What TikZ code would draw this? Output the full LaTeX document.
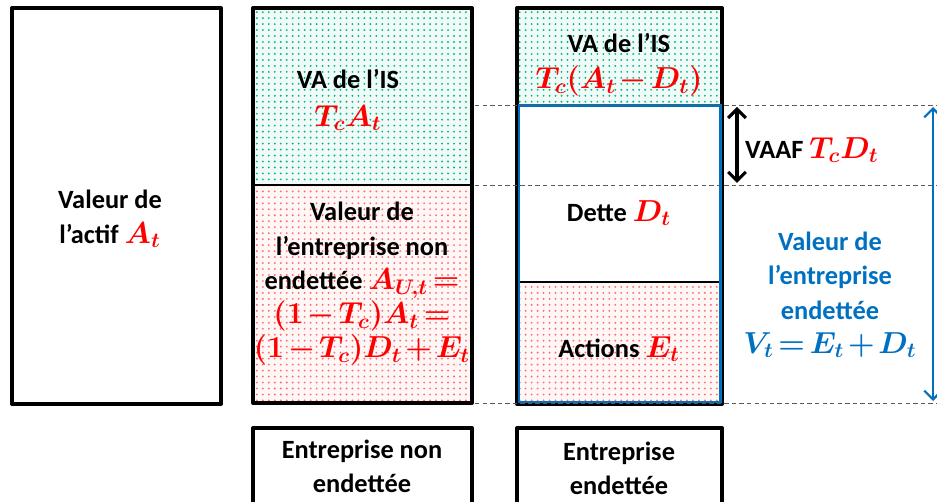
\documentclass[tikz,border=0pt]{standalone}
\usepackage{amsmath}
\usepackage{fontspec}
\setmainfont{Carlito}
\usetikzlibrary{patterns,arrows.meta}

\definecolor{isblue}{HTML}{0070C0}
\definecolor{dotgreen}{HTML}{00B890}
\definecolor{dotred}{HTML}{FF4A4A}
\pgfdeclarepatternformonly{sparsedots}{\pgfqpoint{-1pt}{-1pt}}{\pgfqpoint{1pt}{1pt}}{\pgfqpoint{3.4pt}{3.4pt}}{\pgfpathcircle{\pgfqpoint{0pt}{0pt}}{0.6pt}\pgfusepath{fill}}
\newcommand{\mth}[1]{{\fontsize{16.5}{19.5}\selectfont\color{red}$\medmuskip=2mu\thickmuskip=2.5mu #1$}}

\begin{document}
\begin{tikzpicture}[x=0.02cm, y=-0.02cm,
  txt/.style={font=\fontsize{15}{19.5}\selectfont\bfseries\boldmath, align=center},
  frame/.style={line width=2.3pt, line join=round},
  isfill/.style={fill=dotgreen!6},
  isdots/.style={pattern=sparsedots, pattern color=dotgreen},
  eqfill/.style={fill=dotred!5},
  eqdots/.style={pattern=sparsedots, pattern color=dotred!80},
  guide/.style={dashed, dash pattern=on 2.5pt off 1.8pt, gray!70!black, line width=0.5pt}]
\useasboundingbox (0,0) rectangle (937,502);

% valeur de l'actif
\draw[frame] (12,8) rectangle (221,404);
\node[txt] (actif) at (110,219) {Valeur de\\l’actif \mth{A_t}};

% entreprise non endettee
\fill[isfill] (253,8) rectangle (472,185);
\fill[isdots] (253,8) rectangle (472,185);
\fill[eqfill] (253,185) rectangle (472,403);
\fill[eqdots] (253,185) rectangle (472,403);
\draw[line width=0.6pt] (253,185) -- (472,185);
\draw[frame] (253,8) rectangle (472,403);
\node[txt] (isU) at (348,100) {VA de l’IS\\[2pt]\mth{T_cA_t}};
\node[txt] (valU) at (362,284) {Valeur de\\l’entreprise non\\endettée \mth{A_{U,t}=}\\\mth{(1-T_c)A_t=}\\\mth{(1-T_c)D_t+E_t}};

% entreprise endettee
\fill[isfill] (517,8) rectangle (722,105);
\fill[isdots] (517,8) rectangle (722,105);
\fill[eqfill] (519,282) rectangle (720,402);
\fill[eqdots] (519,282) rectangle (720,402);
\draw[line width=0.6pt] (519,282) -- (720,282);
\draw[frame] (517,8) rectangle (722,404);
\draw[isblue, line width=1.7pt] (519,106) rectangle (720,402);
\node[txt] (isL) at (619,65) {VA de l’IS\\[1pt]\mth{T_c(A_t-D_t)}};
\node[txt] (dette) at (619,213) {Dette \mth{D_t}};
\node[txt] (actions) at (619,349) {Actions \mth{E_t}};

% reperes
\coordinate (gA) at (475,105);
\coordinate (gA') at (937,105);
\coordinate (gB) at (475,185);
\coordinate (gB') at (937,185);
\coordinate (gC) at (475,403);
\coordinate (gC') at (937,403);
\draw[guide] (gA) -- (gA');
\draw[guide] (gB) -- (gB');
\draw[guide] (gC) -- (gC');

\coordinate (vaafTop) at (737,107);
\coordinate (vaafBot) at (737,183);
\draw[line width=1.8pt, {Straight Barb[length=5pt,width=10pt]}-{Straight Barb[length=5pt,width=10pt]}] (vaafTop) -- (vaafBot);
\node[txt, anchor=west] (vaaf) at (739,150) {VAAF \mth{T_cD_t}};

\coordinate (vTop) at (933,107);
\coordinate (vBot) at (933,401);
\draw[isblue, line width=1.3pt, {Straight Barb[length=5pt,width=10pt]}-{Straight Barb[length=5pt,width=10pt]}] (vTop) -- (vBot);
\node[txt, text=isblue] (valL) at (830,295) {Valeur de\\l’entreprise\\endettée\\{\fontsize{16.5}{19.5}\selectfont$\medmuskip=2mu\thickmuskip=2.5mu V_t=E_t+D_t$}};

% legendes
\draw[frame] (253,510) -- (253,428) -- (472,428) -- (472,510);
\node[txt] (nonEnd) at (362,466) {Entreprise non\\endettée};
\draw[frame] (517,510) -- (517,428) -- (722,428) -- (722,510);
\node[txt] (end) at (619,468) {Entreprise\\endettée};
\end{tikzpicture}
\end{document}
